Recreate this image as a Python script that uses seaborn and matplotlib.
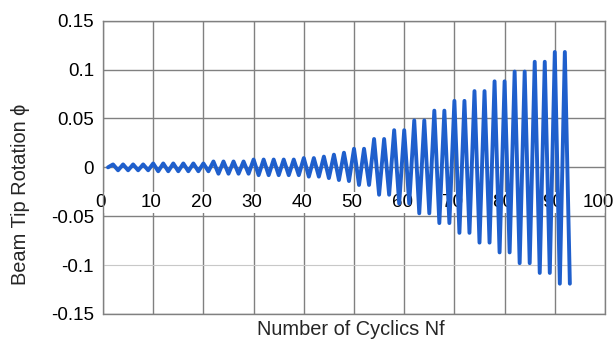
import pandas as pd
import matplotlib
matplotlib.use('Agg')
import matplotlib.pyplot as plt
import matplotlib.transforms as mtransforms
import seaborn as sns


# peak and trough rotation of each loading cycle
peak_values = ([0.003] * 4 + [0.004] * 6 + [0.006] * 4 + [0.008] * 5
               + [0.0095, 0.0095, 0.011, 0.013, 0.015]
               + [0.019, 0.019, 0.029, 0.029, 0.038, 0.038, 0.048, 0.048,
                  0.058, 0.058, 0.068, 0.068, 0.078, 0.078, 0.088, 0.088,
                  0.098, 0.098, 0.108, 0.108, 0.118, 0.118])
trough_values = ([-0.003] * 4 + [-0.004] * 6 + [-0.0065] * 4 + [-0.008] * 5
                 + [-0.0095, -0.0095, -0.011, -0.013, -0.014]
                 + [-0.018, -0.018, -0.028, -0.028, -0.037, -0.037, -0.047, -0.047,
                    -0.057, -0.057, -0.067, -0.067, -0.077, -0.077, -0.087, -0.087,
                    -0.098, -0.098, -0.108, -0.108, -0.119, -0.119])
start_nf = 1

x_ticks = [0, 10, 20, 30, 40, 50, 60, 70, 80, 90, 100]
x_tick_labels = ['0', '10', '20', '30', '40', '50', '60', '70', '80', '90', '100']
y_ticks = [-0.15, -0.1, -0.05, 0, 0.05, 0.1, 0.15]
y_tick_labels = ['-0.15', '-0.1', '-0.05', '0', '0.05', '0.1', '0.15']

# peaks sit on even cycle numbers, troughs on the following odd one
nf = [start_nf]
rotation = [0.0]
for i, (p, t) in enumerate(zip(peak_values, trough_values)):
    nf += [2 * (i + 1), 2 * (i + 1) + 1]
    rotation += [p, t]
df = pd.DataFrame({'nf': nf, 'rotation': rotation})

sns.set_style('white')
plt.rcParams['font.family'] = ['Liberation Sans', 'DejaVu Sans']

GRID = '#808080'

fig = plt.figure(figsize=(6.15, 3.39), dpi=100)
ax = fig.add_axes([103 / 615, 1 - 314 / 339, 502 / 615, 293.3 / 339])

sns.lineplot(data=df, x='nf', y='rotation', sort=False, color='#1F5FCC',
             lw=2.8, solid_joinstyle='round', solid_capstyle='round', ax=ax)

ax.set_xlim(0, 100)
ax.set_ylim(-0.15, 0.15)
ax.set_xticks(x_ticks, x_tick_labels)
ax.set_yticks(y_ticks, y_tick_labels)

ax.set_axisbelow(True)
ax.grid(True, color=GRID, lw=1.0)
ax.get_ygridlines()[1].set_color('#c8c8c8')
ax.get_ygridlines()[1].set_linewidth(0.8)

# x axis crosses at zero, labels hang below it
ax.spines['bottom'].set_position(('data', 0))
ax.spines['bottom'].set_visible(False)
for side in ['left', 'top', 'right']:
    ax.spines[side].set_color(GRID)
    ax.spines[side].set_linewidth(1.0)
ax.axhline(-0.15, color=GRID, lw=1.0, clip_on=False, zorder=0.6)

ax.tick_params(axis='x', length=0, pad=19, labelsize=13.5, labelcolor='black')
ax.tick_params(axis='y', length=5.5, width=1.0, color=GRID, pad=1,
               labelsize=13.5, labelcolor='black')
for i, lbl in enumerate(ax.get_xticklabels()):
    shift = -7 if i == len(x_ticks) - 1 else -2
    lbl.set_transform(lbl.get_transform()
                      + mtransforms.ScaledTranslation(shift / 100, 0, fig.dpi_scale_trans))
    lbl.set_bbox(dict(facecolor='white', edgecolor='none', pad=1.5))

ax.set_xlabel('Number of Cyclics Nf', fontsize=14.4)
ax.xaxis.set_label_coords(0.494, -0.02)
ax.set_ylabel('Beam Tip Rotation ϕ', fontsize=14.4)
ax.yaxis.set_label_coords(-0.145, 0.409)

fig.savefig('out.png', dpi=100)
